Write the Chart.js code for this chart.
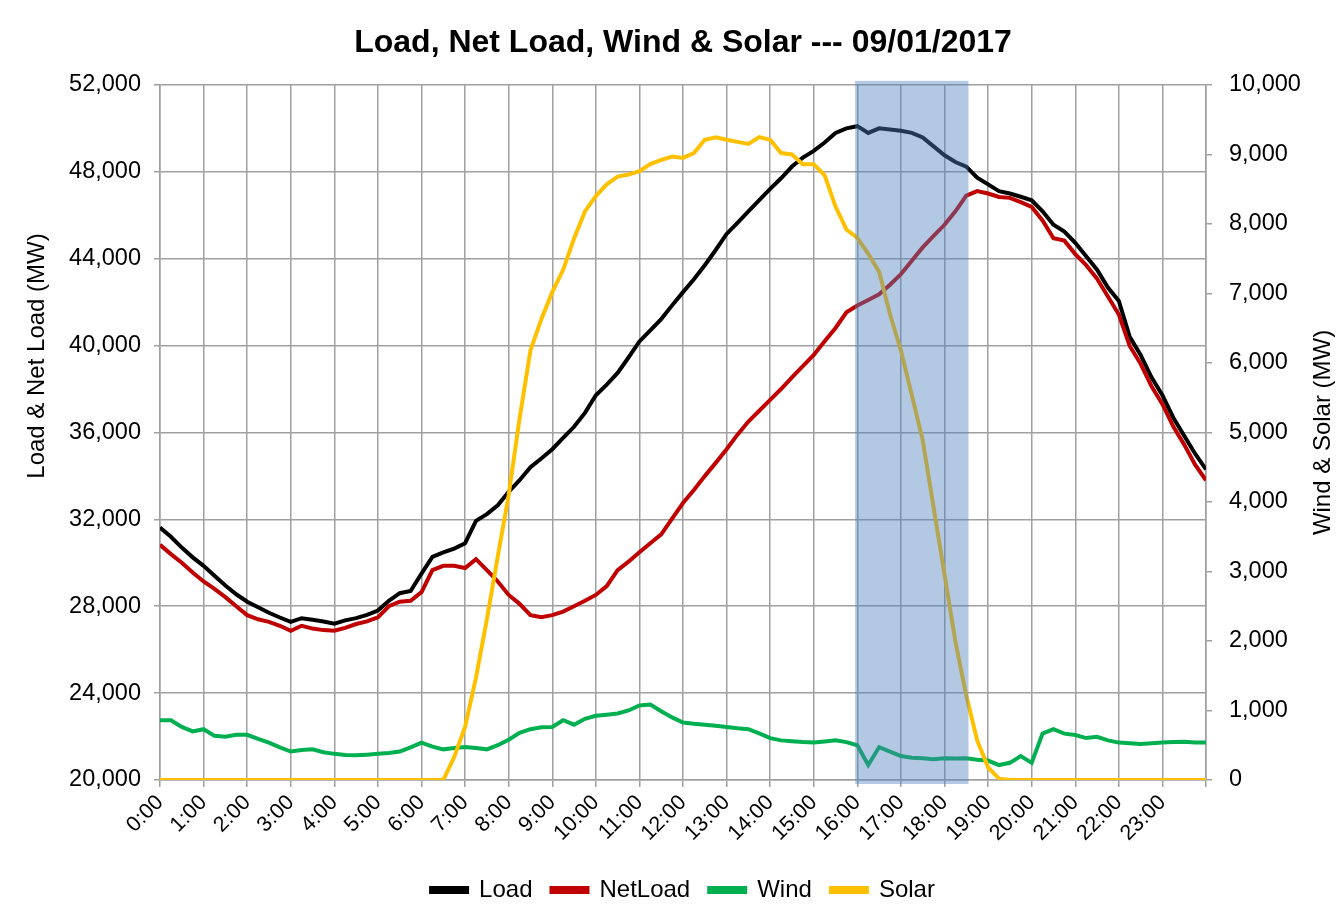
<!DOCTYPE html>
<html>
<head>
<meta charset="utf-8">
<title>Load, Net Load, Wind & Solar</title>
<script src="https://cdn.jsdelivr.net/npm/chart.js@4"></script>
<style>
  body { margin: 0; background: #ffffff; }
  canvas { display: block; }
</style>
</head>
<body>
<canvas id="loadChart" width="1341" height="917"></canvas>
<script>
// 15-minute readings, 0:00 .. 24:00 (97 points)
const hours = Array.from({ length: 97 }, (_, i) => i / 4);

const load = [
    31620, 31200, 30700, 30250, 29860, 29400, 28950, 28550,
    28210, 27950, 27700, 27480, 27280, 27450, 27380, 27300,
    27200, 27350, 27450, 27600, 27800, 28250, 28600, 28700,
    29500, 30270, 30480, 30650, 30900, 31930, 32240, 32650,
    33270, 33800, 34400, 34800, 35230, 35750, 36260, 36900,
    37710, 38200, 38740, 39450, 40190, 40700, 41220, 41850,
    42460, 43050, 43700, 44400, 45140, 45650, 46180, 46700,
    47210, 47700, 48240, 48650, 48960, 49350, 49790, 50000,
    50100, 49790, 50000, 49950, 49890, 49790, 49580, 49170,
    48760, 48450, 48240, 47730, 47420, 47110, 47000, 46850,
    46690, 46180, 45560, 45250, 44730, 44110, 43490, 42670,
    42050, 40400, 39570, 38540, 37710, 36680, 35850, 35020,
    34300
];

const netLoad = [
    30830, 30400, 30000, 29550, 29140, 28800, 28420, 28000,
    27590, 27400, 27280, 27100, 26870, 27100, 26970, 26900,
    26870, 27000, 27180, 27300, 27490, 28000, 28210, 28250,
    28650, 29660, 29860, 29860, 29760, 30170, 29660, 29140,
    28520, 28110, 27590, 27490, 27590, 27750, 28000, 28250,
    28520, 28930, 29660, 30050, 30480, 30900, 31310, 32030,
    32750, 33350, 33990, 34600, 35230, 35900, 36500, 37000,
    37500, 38000, 38540, 39050, 39570, 40200, 40810, 41530,
    41840, 42100, 42360, 42800, 43290, 43900, 44520, 45050,
    45560, 46180, 46900, 47110, 47000, 46840, 46800, 46600,
    46380, 45760, 44940, 44830, 44210, 43700, 43080, 42260,
    41430, 39980, 39160, 38130, 37300, 36270, 35440, 34520,
    33800
];

const wind = [
    860, 860, 764, 700, 731, 635, 622, 650,
    650, 590, 538, 470, 409, 430, 441, 400,
    376, 360, 357, 365, 376, 390, 409, 470,
    538, 480, 441, 460, 473, 460, 441, 500,
    580, 680, 731, 760, 764, 860, 796, 880,
    925, 940, 957, 1000, 1073, 1086, 989, 900,
    828, 810, 796, 780, 764, 745, 731, 670,
    603, 570, 557, 545, 538, 555, 570, 545,
    500, 215, 473, 409, 344, 320, 312, 300,
    312, 310, 312, 290, 280, 215, 247, 344,
    247, 667, 731, 667, 648, 603, 622, 570,
    538, 530, 519, 530, 538, 545, 550, 540,
    538
];

const solar = [
    0, 0, 0, 0, 0, 0, 0, 0,
    0, 0, 0, 0, 0, 0, 0, 0,
    0, 0, 0, 0, 0, 0, 0, 0,
    0, 0, 0, 330, 764, 1473, 2312, 3215,
    4100, 5200, 6180, 6630, 7020, 7340, 7790, 8180,
    8400, 8570, 8680, 8710, 8760, 8860, 8920, 8970,
    8950, 9020, 9210, 9245, 9210, 9180, 9150, 9250,
    9210, 9020, 9000, 8860, 8860, 8700, 8250, 7920,
    7800, 7570, 7310, 6700, 6180, 5540, 4890, 3920,
    2960, 1990, 1215, 570, 183, 20, 0, 0,
    0, 0, 0, 0, 0, 0, 0, 0,
    0, 0, 0, 0, 0, 0, 0, 0,
    0
];

// highlighted window (hours)
const shadeWindow = [15.95, 18.55];

const FONT = 'Liberation Sans, Arial, sans-serif';
const GRID = '#a0a0a0';

const toPoints = arr => hours.map((h, i) => ({ x: h, y: arr[i] }));

function axisTitle(ctx, text, x, y) {
    ctx.save();
    ctx.translate(x, y);
    ctx.rotate(-Math.PI / 2);
    ctx.font = '24px ' + FONT;
    ctx.fillStyle = '#000';
    ctx.textAlign = 'center';
    ctx.textBaseline = 'middle';
    ctx.fillText(text, 0, 0);
    ctx.restore();
}

// blue band drawn over the lines, plus both axis titles (bottom-to-top)
const shadePlugin = {
    id: 'shade',
    afterDatasetsDraw(chart) {
        const { ctx, chartArea, scales } = chart;
        const x0 = scales.x.getPixelForValue(shadeWindow[0]);
        const x1 = scales.x.getPixelForValue(shadeWindow[1]);
        ctx.save();
        ctx.fillStyle = 'rgba(79,129,189,0.43)';
        ctx.fillRect(x0, chartArea.top - 4, x1 - x0, chartArea.bottom - chartArea.top + 8);
        ctx.restore();
    },
    afterDraw(chart) {
        const { ctx, chartArea, scales } = chart;
        const h = chartArea.bottom - chartArea.top;
        axisTitle(ctx, 'Load & Net Load (MW)', scales.y.left + 37, chartArea.top + h * 0.39);
        axisTitle(ctx, 'Wind & Solar (MW)', scales.y1.right - 18, chartArea.top + h * 0.5);
    }
};

const ctx = document.getElementById('loadChart').getContext('2d');
new Chart(ctx, {
    type: 'line',
    data: {
        datasets: [
            { label: 'Load', data: toPoints(load), borderColor: '#000000', backgroundColor: '#000000', yAxisID: 'y', order: 4 },
            { label: 'NetLoad', data: toPoints(netLoad), borderColor: '#c00000', backgroundColor: '#c00000', yAxisID: 'y', order: 3 },
            { label: 'Wind', data: toPoints(wind), borderColor: '#00b050', backgroundColor: '#00b050', yAxisID: 'y1', order: 2 },
            { label: 'Solar', data: toPoints(solar), borderColor: '#ffc000', backgroundColor: '#ffc000', yAxisID: 'y1', order: 1 }
        ]
    },
    options: {
        responsive: false,
        animation: false,
        elements: {
            point: { radius: 0 },
            line: { borderWidth: 4, tension: 0 }
        },
        layout: { padding: { left: 0, right: 0, top: 0, bottom: 5 } },
        plugins: {
            title: {
                display: true,
                fullSize: false,
                text: 'Load, Net Load, Wind & Solar --- 09/01/2017',
                color: '#000',
                font: { family: FONT, size: 32, weight: 'bold' },
                padding: { top: 24, bottom: 22.5 }
            },
            legend: {
                position: 'bottom',
                fullSize: false,
                labels: {
                    color: '#000',
                    boxWidth: 36,
                    boxHeight: 4,
                    padding: 19,
                    font: { family: FONT, size: 24 },
                    sort: (a, b) => a.datasetIndex - b.datasetIndex
                }
            },
            tooltip: { enabled: false }
        },
        scales: {
            x: {
                type: 'linear',
                min: 0,
                max: 24,
                ticks: {
                    stepSize: 1,
                    autoSkip: false,
                    minRotation: 45,
                    maxRotation: 45,
                    color: '#000',
                    font: { family: FONT, size: 21.5 },
                    callback: v => (v < 24 ? v + ':00' : '')
                },
                grid: { color: GRID, lineWidth: 1.5, tickLength: 7 },
                border: { color: GRID, width: 1.5 },
                afterFit: s => { s.height = 79; }
            },
            y: {
                position: 'left',
                min: 20000,
                max: 52000,
                ticks: {
                    stepSize: 4000,
                    color: '#000',
                    padding: 13,
                    font: { family: FONT, size: 23.5 },
                    callback: v => v.toLocaleString('en-US')
                },
                grid: { color: GRID, lineWidth: 1.5, tickLength: 6 },
                border: { color: GRID, width: 1.5 },
                afterFit: s => { s.width = 160; }
            },
            y1: {
                position: 'right',
                min: 0,
                max: 10000,
                ticks: {
                    stepSize: 1000,
                    color: '#000',
                    padding: 17,
                    font: { family: FONT, size: 23.5 },
                    callback: v => v.toLocaleString('en-US')
                },
                grid: { drawOnChartArea: false, color: GRID, lineWidth: 1.5, tickLength: 6 },
                border: { color: GRID, width: 1.5 },
                afterFit: s => { s.width = 135; }
            }
        }
    },
    plugins: [shadePlugin]
});
</script>
</body>
</html>
